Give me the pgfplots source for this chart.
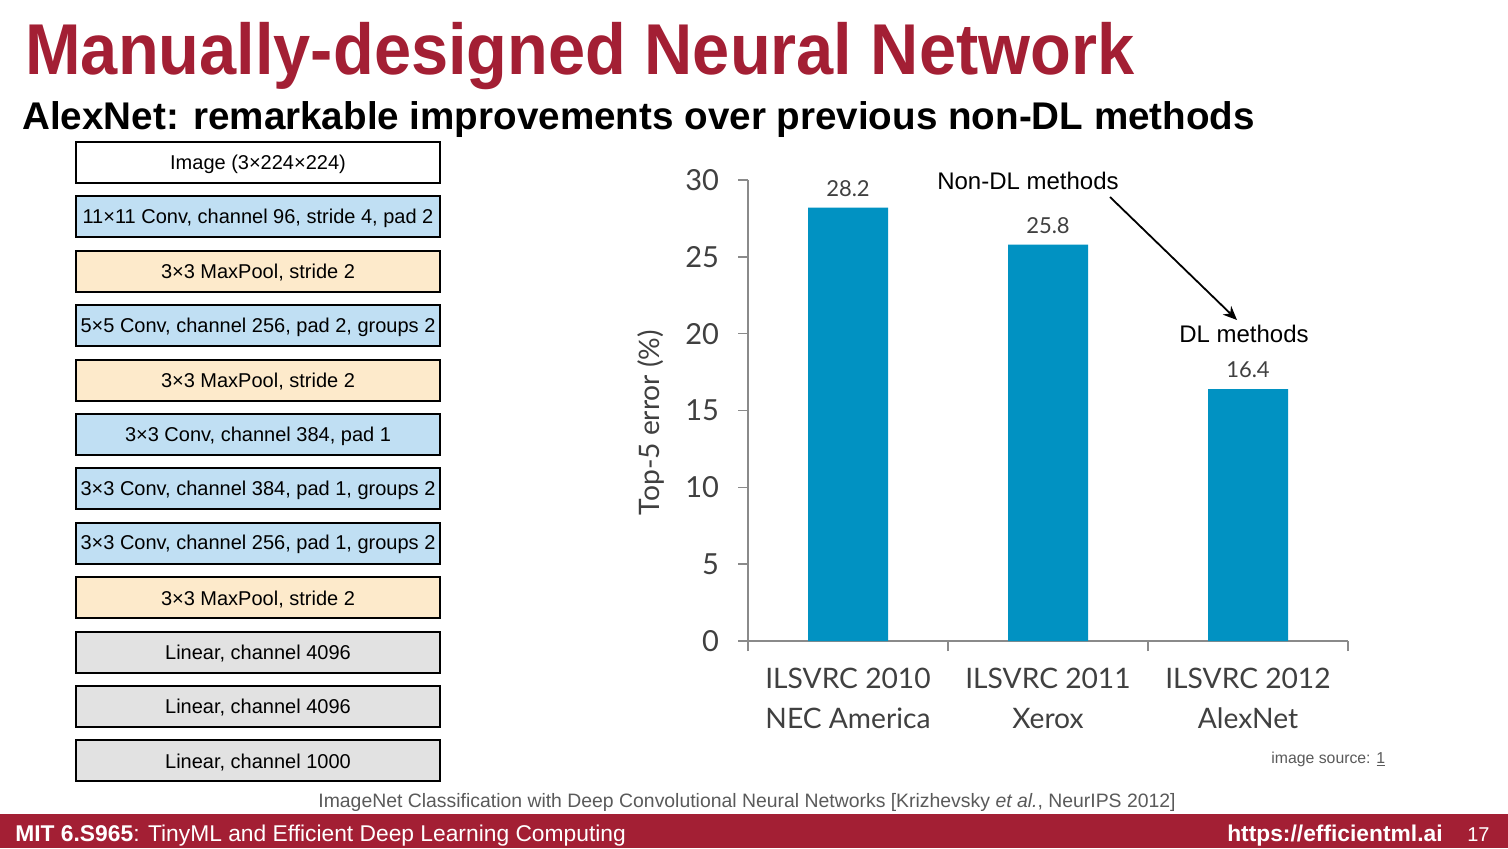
\documentclass[border=0pt]{standalone}
\usepackage{fontspec}
\setmainfont{Liberation Sans}
\newfontfamily\lato{Lato}
\usepackage{pgfplots}
\pgfplotsset{compat=1.18}
\usetikzlibrary{arrows.meta}
\definecolor{mitred}{HTML}{A31F34}
\definecolor{barblue}{HTML}{0192C2}
\definecolor{boxblue}{HTML}{C0DFF3}
\definecolor{boxorange}{HTML}{FDEACB}
\definecolor{boxgray}{HTML}{E2E2E2}
\definecolor{axisgray}{HTML}{8A8A8A}
\definecolor{textgray}{HTML}{404040}
\definecolor{citegray}{HTML}{5A5A5A}
\begin{document}
\begin{tikzpicture}
\begin{scope}[x=0.5pt,y=-0.5pt]
\fill[white] (0,0) rectangle (1508,848);
\fill[mitred] (0,814) rectangle (1508,848);
\node[anchor=base west, text=mitred, font=\fontsize{36}{40}\selectfont\bfseries, inner sep=0] at (25,74) {\scalebox{0.927}[1]{Manually-designed Neural Network}};
\node[anchor=base west, font=\fontsize{19.3}{22}\selectfont\bfseries, inner sep=0] at (22,129) {AlexNet: remarkable improvements over previous non-DL methods};
\foreach \t/\c [count=\i from 0] in {
 {Image (3×224×224)}/white,
 {11×11 Conv, channel 96, stride 4, pad 2}/boxblue,
 {3×3 MaxPool, stride 2}/boxorange,
 {5×5 Conv, channel 256, pad 2, groups 2}/boxblue,
 {3×3 MaxPool, stride 2}/boxorange,
 {3×3 Conv, channel 384, pad 1}/boxblue,
 {3×3 Conv, channel 384, pad 1, groups 2}/boxblue,
 {3×3 Conv, channel 256, pad 1, groups 2}/boxblue,
 {3×3 MaxPool, stride 2}/boxorange,
 {Linear, channel 4096}/boxgray,
 {Linear, channel 4096}/boxgray,
 {Linear, channel 1000}/boxgray} {
  \draw[line width=1pt, fill=\c] (76,{142+54.4*\i}) rectangle (440,{183+54.4*\i});
  \node[font=\fontsize{10}{11}\selectfont, inner sep=0] at (258,{164+54.4*\i}) {\t};
}
\node[anchor=base, text=citegray, font=\fontsize{9.7}{11}\selectfont, inner sep=0] at (747,807) {ImageNet Classification with Deep Convolutional Neural Networks [Krizhevsky \textit{et al.}, NeurIPS 2012]};
\node[anchor=base west, text=citegray, font=\fontsize{7.9}{9}\selectfont, inner sep=0] at (1271,763) {image source: \underline{1}};
\node[anchor=base west, text=white, font=\fontsize{11.4}{12}\selectfont, inner sep=0] at (15,841) {\textbf{MIT 6.S965}: TinyML and Efficient Deep Learning Computing};
\node[anchor=base east, text=white, font=\fontsize{11.4}{12}\selectfont\bfseries, inner sep=0] at (1443,841) {https://efficientml.ai};
\node[anchor=base east, text=white, font=\fontsize{10}{12}\selectfont, inner sep=0] at (1490,841) {17};
\end{scope}
\begin{axis}[
  at={(374pt,-320.5pt)}, anchor=south west, scale only axis,
  width=300pt, height=230.5pt,
  xmin=-0.5, xmax=2.5, ymin=0, ymax=30,
  axis x line*=bottom, axis y line*=left,
  axis line style={draw=axisgray, line width=0.8pt, -},
  tick align=outside, major tick length=5pt,
  tick style={draw=axisgray, line width=0.8pt},
  ytick={0,5,...,30},
  yticklabel style={font=\lato\fontsize{14.5}{16}\selectfont, text=textgray, xshift=-6pt},
  /pgf/number format/assume math mode=true,
  xtick={-0.5,0.5,1.5,2.5}, xticklabels={},
  extra x ticks={0,1,2},
  extra x tick labels={{ILSVRC 2010\\NEC America},{ILSVRC 2011\\Xerox},{ILSVRC 2012\\AlexNet}},
  extra x tick style={major tick length=0pt, xticklabel style={align=center, font=\lato\fontsize{14.1}{20}\selectfont, text=textgray, yshift=-10pt}},
  ylabel={Top-5 error (\%)},
  ylabel style={at={(axis description cs:-0.1617,0.474)}, anchor=center, font=\lato\fontsize{14.1}{16}\selectfont, text=textgray},
  clip=false,
]
\addplot[ybar, bar width=40pt, fill=barblue, draw=none,
  nodes near coords, every node near coord/.append style={font=\lato\fontsize{11}{13}\selectfont, text=textgray, yshift=2pt},
  /pgf/number format/.cd, fixed, precision=1, fixed zerofill]
  coordinates {(0,28.2) (1,25.8) (2,16.4)};
\end{axis}
\begin{scope}[x=0.5pt,y=-0.5pt]
\node[font=\fontsize{12}{14}\selectfont, inner sep=0] at (1028,181) {Non-DL methods};
\node[font=\fontsize{12}{14}\selectfont, inner sep=0] at (1244,334) {DL methods};
\draw[-{Stealth[length=7pt,width=6pt]}, line width=0.9pt] (1110,197) -- (1237,320);
\end{scope}
\end{tikzpicture}
\end{document}
